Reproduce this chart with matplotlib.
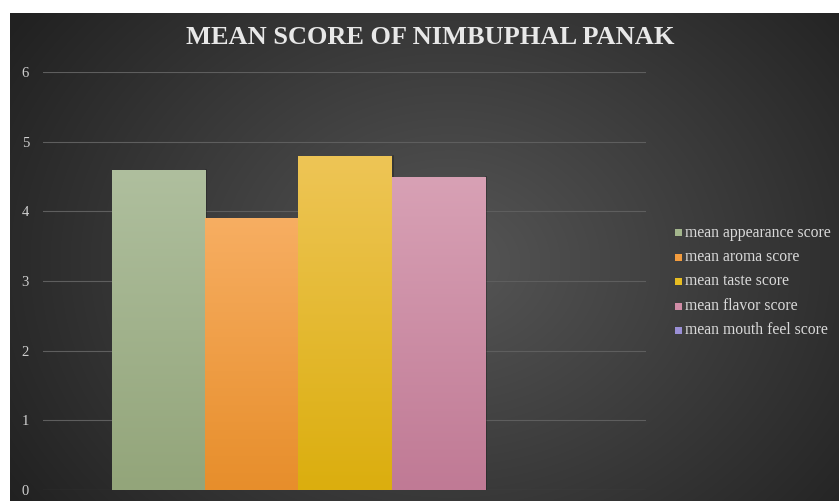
import numpy as np
import matplotlib.pyplot as plt
from matplotlib.colors import LinearSegmentedColormap

# data
series = ['mean appearance score', 'mean aroma score', 'mean taste score',
          'mean flavor score', 'mean mouth feel score']
values = [4.6, 3.9, 4.8, 4.5, 0]
yticks = [0, 1, 2, 3, 4, 5, 6]

# colours: (top, bottom) of each bar's gradient
bar_cols = [('#afbf9e', '#93a57a'), ('#f7ae62', '#e78e2b'),
            ('#eec556', '#dbae0e'), ('#d8a1b5', '#c07a95'),
            ('#a99de0', '#8f82c8')]
legend_cols = ['#a3b68c', '#f39c3e', '#e8bd22', '#d08ca6', '#9a8fd6']

fig = plt.figure(figsize=(8.39, 5.01), dpi=100, facecolor='white')

# radial gradient background
bg = fig.add_axes([10 / 839, 0, 829 / 839, 488 / 501])
bg.set_axis_off()
W, H = 829, 488
xx, yy = np.meshgrid(np.arange(W), np.arange(H))
d = np.sqrt(((xx - 440) / 520) ** 2 + ((yy - 250) / 420) ** 2)
d = np.clip(d, 0, 1)
c0 = np.array([0x56, 0x56, 0x56]) / 255
c1 = np.array([0x22, 0x22, 0x22]) / 255
img = c0[None, None, :] * (1 - d[..., None]) + c1[None, None, :] * d[..., None]
bg.imshow(img, aspect='auto', extent=[0, 1, 0, 1], origin='upper')
bg.set_xlim(0, 1)
bg.set_ylim(0, 1)

# plot area: x 43..646, y 72..490 (px from top)
ax = fig.add_axes([43 / 839, (501 - 490) / 501, 603 / 839, 418 / 501])
ax.patch.set_alpha(0)
x = np.arange(len(values))
bars = ax.bar(x, values, width=1.0, color='none', edgecolor='none', zorder=3)

for b, (top, bot) in zip(bars, bar_cols):
    h = b.get_height()
    if h <= 0:
        continue
    cmap = LinearSegmentedColormap.from_list('g', [bot, top])
    grad = np.linspace(0, 1, 256).reshape(-1, 1)
    x0 = b.get_x()
    im = ax.imshow(grad, cmap=cmap, aspect='auto', origin='lower',
                   extent=[x0, x0 + b.get_width(), 0, h], zorder=3)
    im.set_clip_path(b)
    # faint shadow edge on the right
    ax.plot([x0 + b.get_width() + 0.01] * 2, [0, h], color='#1e1e1e',
            lw=1.2, alpha=0.5, zorder=2)

ax.set_xlim(-0.5 - 69 / 93, 4.5 + 68 / 93)
ax.set_ylim(0, 6)
ax.set_yticks(yticks)
ax.set_yticklabels([str(t) for t in yticks], family='Liberation Serif',
                   fontsize=10.5, color='#d0d0d0')
ax.tick_params(axis='y', length=0, pad=10)
ax.set_xticks([])
for s in ax.spines.values():
    s.set_visible(False)
ax.grid(axis='y', color='#5e5e5e', lw=0.8, zorder=1)
ax.set_axisbelow(True)

fig.text(430 / 839, 1 - 38 / 501, 'MEAN SCORE OF NIMBUPHAL PANAK',
         ha='center', va='center', family='Liberation Serif',
         fontsize=19, fontweight='bold', color='#e8e8e8')

# legend
ys = [233, 257, 281, 306, 330]
for name, col, yp in zip(series, legend_cols, ys):
    fig.patches.append(plt.Rectangle((675 / 839, 1 - (yp + 3.5) / 501),
                                     7 / 839, 7 / 501, transform=fig.transFigure,
                                     facecolor=col, edgecolor='none'))
    fig.text(685 / 839, 1 - yp / 501, name, ha='left', va='center',
             family='Liberation Serif', fontsize=11.3, color='#d9d9d9')

fig.savefig('out.png', dpi=100, facecolor='white')
